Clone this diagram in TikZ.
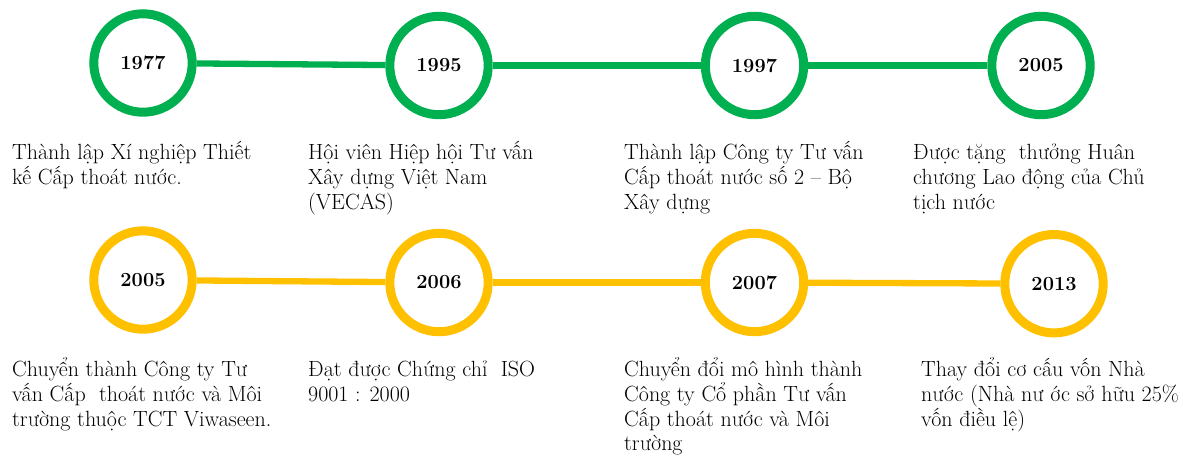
\documentclass[tikz,border=0pt]{standalone}
\usepackage{fontspec}
\definecolor{tlgreen}{HTML}{00B050}
\definecolor{tlgold}{HTML}{FFC000}
\newcommand{\toprule}{\rule{0pt}{20pt}}
\begin{document}
\begin{tikzpicture}[x=1pt,y=-1pt,
  yearnode/.style={circle, draw, line width=9pt, minimum size=98.4pt, inner sep=0pt,
    font=\fontsize{20}{22}\selectfont\bfseries, text=black},
  gy/.style={yearnode, draw=tlgreen},
  yy/.style={yearnode, draw=tlgold},
  glink/.style={draw=tlgreen, line width=6.3pt},
  ylink/.style={draw=tlgold, line width=6.3pt},
  desc/.style={anchor=north west, inner sep=0pt, align=left,
    font=\fontsize{22}{24.7}\selectfont}]
\useasboundingbox (0,0) rectangle (1183,456);
% green row
\node[gy] (g1) at (143,63) {1977};
\node[gy] (g2) at (439,65.5) {1995};
\node[gy] (g3) at (754.5,65.5) {1997};
\node[gy] (g4) at (1041,65.5) {2005};
\draw[glink] (g1) -- (g2);
\draw[glink] (g2) -- (g3);
\draw[glink] (g3) -- (g4);
% yellow row
\node[yy] (y1) at (143,280) {2005};
\node[yy] (y2) at (439,282.5) {2006};
\node[yy] (y3) at (754.5,282.5) {2007};
\node[yy] (y4) at (1054,283.7) {2013};
\draw[ylink] (y1) -- (y2);
\draw[ylink] (y2) -- (y3);
\draw[ylink] (y3) -- (y4);
% descriptions row 1
\node[desc] (t1) at (12,139.5) {\toprule Thành lập Xí nghiệp Thiết\\kế Cấp thoát nước.};
\node[desc] (t2) at (308,139.5) {\toprule Hội viên Hiệp hội Tư vấn\\Xây dựng Việt Nam\\(VECAS)};
\node[desc] (t3) at (624,139.5) {\toprule Thành lập Công ty Tư vấn\\Cấp thoát nước số 2 – Bộ\\Xây dựng};
\node[desc] (t4) at (913,139.5) {\toprule Được tặng~ thưởng Huân\\chương Lao động của Chủ\\tịch nước};
% descriptions row 2
\node[desc] (s1) at (12,356.5) {\toprule Chuyển thành Công ty Tư\\vấn Cấp~ thoát nước và Môi\\trường thuộc TCT Viwaseen.};
\node[desc] (s2) at (308,356.5) {\toprule Đạt được Chứng chỉ~ ISO\\9001 : 2000};
\node[desc] (s3) at (624,356.5) {\toprule Chuyển đổi mô hình thành\\Công ty Cổ phần Tư vấn\\Cấp thoát nước và Môi\\trường};
\node[desc] (s4) at (921,356.5) {\toprule Thay đổi cơ cấu vốn Nhà\\nước (Nhà nư ớc sở hữu 25\%\\vốn điều lệ)};
\end{tikzpicture}
\end{document}
